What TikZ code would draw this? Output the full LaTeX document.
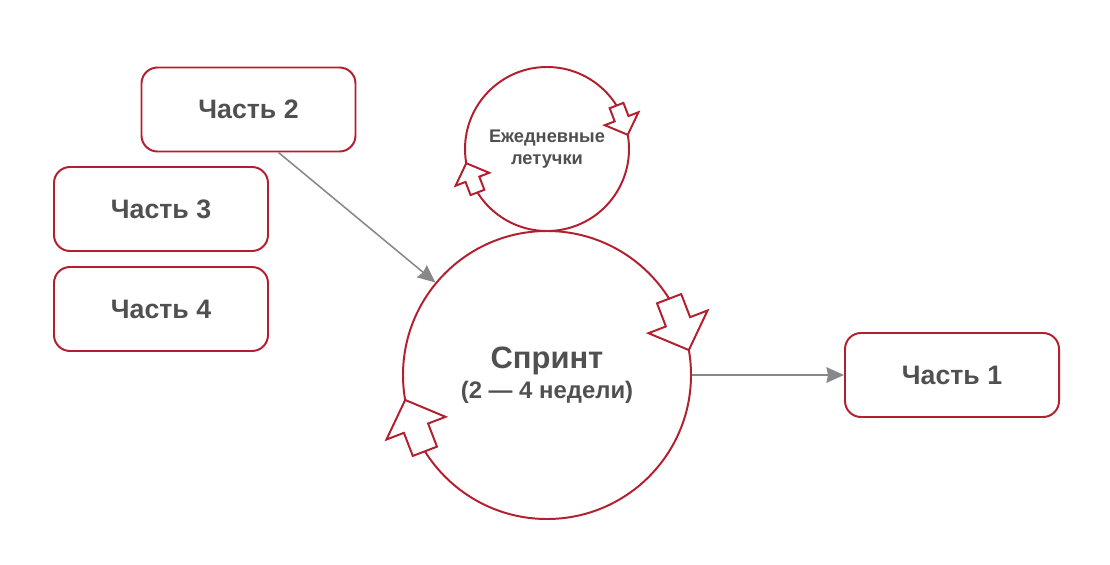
\documentclass[tikz,border=0pt]{standalone}
\usepackage{fontspec}
\setmainfont{Liberation Sans}
\usetikzlibrary{calc,arrows.meta}
\definecolor{sprintred}{RGB}{178,32,48}
\definecolor{labelgray}{RGB}{80,80,80}
\definecolor{linkgray}{RGB}{136,136,136}
\def\looparrow(#1)(#2:#3){\begin{scope}[shift={($(#1)+(#2:#3)$)}, rotate=#2-101, scale=#3]
		\draw[looptip] (0, 0.09) -- (0.172, 0.09) -- (0.172, 0.22) -- (0.382, 0) -- (0.172, -0.22) -- (0.172, -0.09) -- (0, -0.09) -- cycle;
	\end{scope}}
\tikzset{
	part/.style={draw=sprintred, line width=1.4pt, rounded corners=0.4cm, minimum width=5.35cm, minimum height=2.1cm, text=labelgray, font=\bfseries\fontsize{19}{22}\selectfont},
	cycle/.style={circle, draw=sprintred, line width=1.4pt, inner sep=0pt, text=labelgray, align=center},
	looptip/.style={draw=sprintred, fill=white, line width=1.4pt, line join=miter},
	link/.style={draw=linkgray, line width=1.1pt, -{Stealth[length=0.44cm, width=0.39cm, inset=0.04cm]}}
}
\begin{document}
\begin{tikzpicture}
		%%%%% START %%%%%
		\useasboundingbox (0, 0) rectangle (27.75, 14.1);
		
		\node[cycle, minimum size=7.2cm] (sprint) at (13.675, 4.725) {{\bfseries\fontsize{22}{26}\selectfont Спринт}\\[3pt]{\bfseries\fontsize{17}{20}\selectfont (2 — 4 недели)}};
		\node[cycle, minimum size=4.1cm, font=\bfseries\fontsize{13}{15.6}\selectfont] (daily) at (13.675, 10.375) {Ежедневные\\летучки};
		
		\node[part] (p2) at (6.2125, 11.3625) {Часть 2};
		\node[part] (p3) at (4.025, 8.875) {Часть 3};
		\node[part] (p4) at (4.025, 6.375) {Часть 4};
		\node[part] (p1) at (23.8, 4.725) {Часть 1};
		
		\looparrow(sprint)(32:3.6);
		\looparrow(sprint)(212:3.6);
		\looparrow(daily)(32:2.05);
		\looparrow(daily)(212:2.05);
		
		\draw[link] ([xshift=0.75cm]p2.south) -- (sprint);
		\draw[link] (sprint) -- (p1);
		
		%%%%% END %%%%%
	\end{tikzpicture}
\end{document}
